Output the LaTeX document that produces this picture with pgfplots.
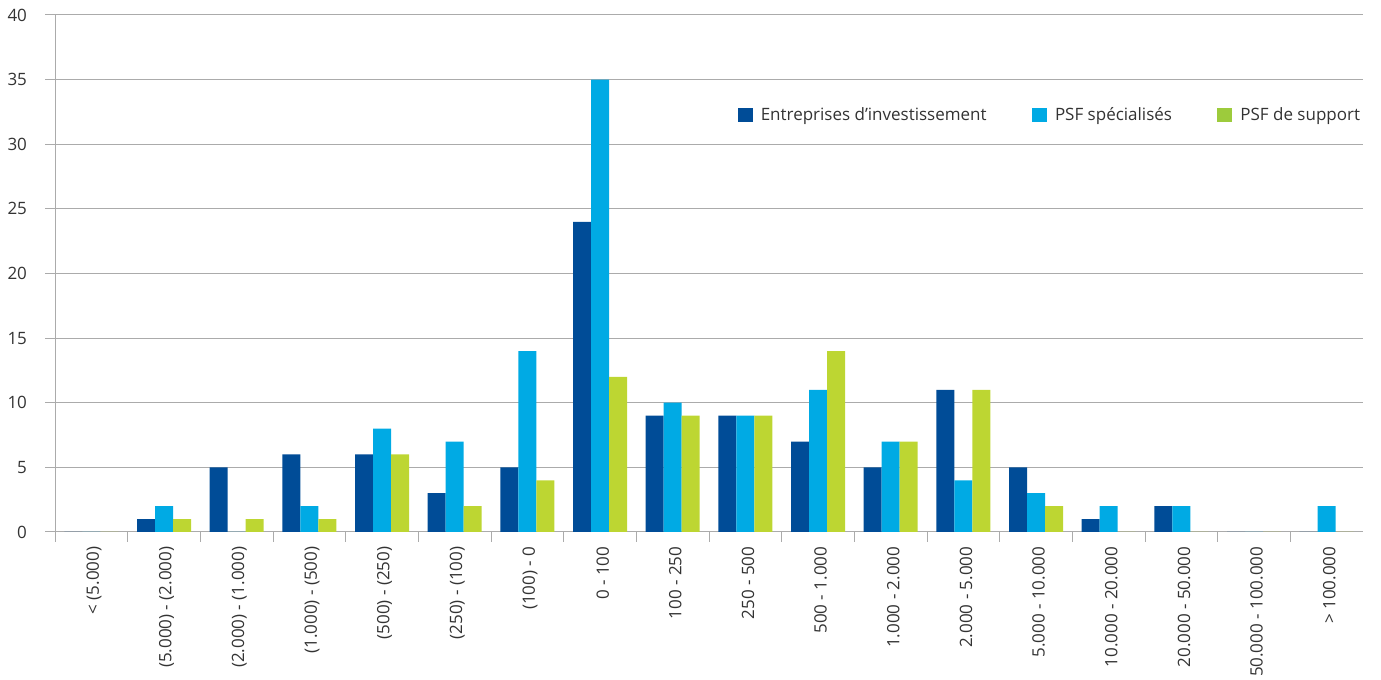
\documentclass[border=0pt]{standalone}
\usepackage{fontspec}
\setmainfont{Open Sans}
\usepackage{pgfplots}
\usepackage{pgfplotstable}
\pgfplotsset{compat=1.18}
\definecolor{c1}{HTML}{004C97}
\definecolor{c2}{HTML}{00AAE4}
\definecolor{c3}{HTML}{BDD632}
\definecolor{c3l}{HTML}{9DCB3C}
\definecolor{gridc}{HTML}{ABABAB}
\definecolor{txt}{HTML}{333333}

\pgfplotstableread{
x e s p
0 0 0 0
1 1 2 1
2 5 0 1
3 6 2 1
4 6 8 6
5 3 7 2
6 5 14 4
7 24 35 12
8 9 10 9
9 9 9 9
10 7 11 14
11 5 7 7
12 11 4 11
13 5 3 2
14 1 2 0
15 2 2 0
16 0 0 0
17 0 2 0
}\data

\begin{document}
\begin{tikzpicture}
\begin{axis}[
  width=981pt, height=387.75pt, scale only axis,
  xmin=-0.5, xmax=17.5, ymin=0, ymax=40,
  ybar=0pt, bar width=13.5pt,
  axis x line*=bottom, axis y line*=left,
  axis line style={gridc, line width=0.75pt},
  ymajorgrids, grid style={gridc, line width=0.75pt},
  ytick={0,5,...,40},
  xtick={0,...,17},
  xticklabels={{< (5.000)},{(5.000) - (2.000)},{(2.000) - (1.000)},{(1.000) - (500)},{(500) - (250)},{(250) - (100)},{(100) - 0},{0 - 100},{100 - 250},{250 - 500},{500 - 1.000},{1.000 - 2.000},{2.000 - 5.000},{5.000 - 10.000},{10.000 - 20.000},{20.000 - 50.000},{50.000 - 100.000},{> 100.000}},
  minor xtick={-0.5,0.5,...,16.5},
  major x tick style={draw=none},
  tick align=outside,
  major tick length=7.5pt, minor tick length=7.5pt,
  tick style={gridc, line width=0.75pt},
  /pgf/number format/assume math mode=true,
  tick label style={font=\fontsize{12.75}{15}\selectfont, text=txt},
  xticklabel style={rotate=90, anchor=east, yshift=-2pt},
  yticklabel style={xshift=-10pt},
  legend style={at={(rel axis cs:1,0.8066)}, anchor=east, draw=none, fill=none,
    font=\fontsize{12.75}{15}\selectfont, text=txt, inner sep=0pt,
    /tikz/every odd column/.append style={column sep=4pt},
    /tikz/every even column/.append style={column sep=32pt}},
  legend columns=3,
  legend cell align=left,
]
\addplot[fill=c1, draw=none, legend image code/.code={\fill[c1] (0pt,-5.6pt) rectangle (11.25pt,5.6pt);}] table[x=x,y=e]{\data};
\addplot[fill=c2, draw=none, legend image code/.code={\fill[c2] (0pt,-5.6pt) rectangle (11.25pt,5.6pt);}] table[x=x,y=s]{\data};
\addplot[fill=c3, draw=none, legend image code/.code={\fill[c3l] (0pt,-5.6pt) rectangle (11.25pt,5.6pt);}] table[x=x,y=p]{\data};
\legend{Entreprises d’investissement, PSF spécialisés, PSF de support}
\coordinate (bl) at (rel axis cs:0,0);
\end{axis}
\pgfresetboundingbox
\path ([shift={(-41.25pt,-111pt)}]bl) rectangle ([shift={(994.5pt,399pt)}]bl);
\end{tikzpicture}
\end{document}
